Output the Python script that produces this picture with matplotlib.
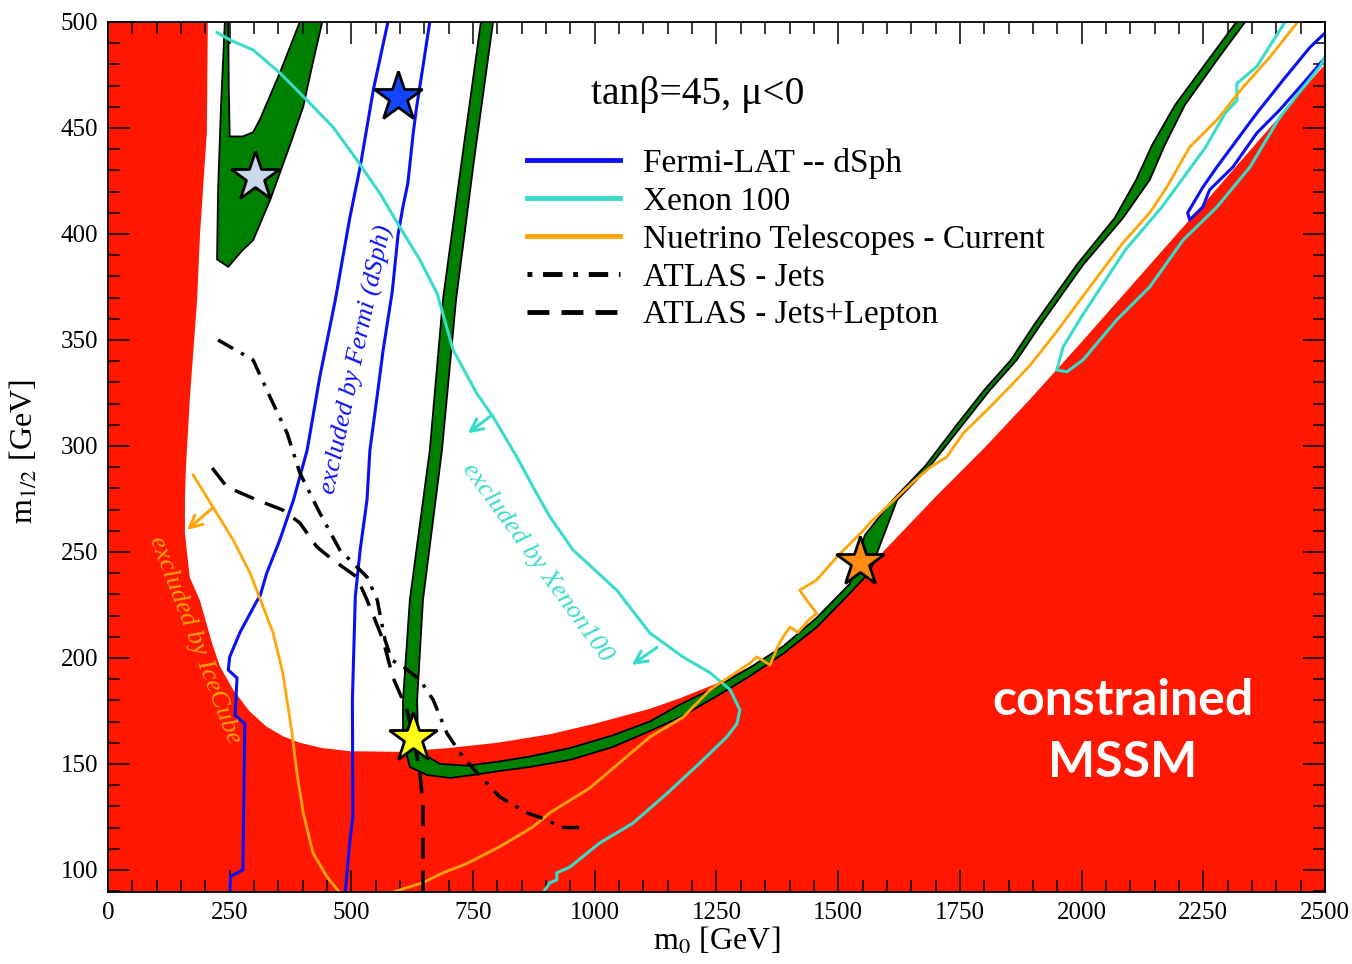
import matplotlib
matplotlib.use("Agg")
import matplotlib.pyplot as plt
from matplotlib.lines import Line2D

plt.rcParams['font.family'] = ['Liberation Serif', 'DejaVu Serif']
plt.rcParams['mathtext.fontset'] = 'stix'

# allowed (white) region: left edge top->bottom, then stau boundary left->right
allowed_x = [205, 203, 189, 183, 168, 160, 158, 158, 162, 168, 189, 200, 215, 230, 257, 290,
             326, 360, 394, 440, 497, 600, 700, 800, 908, 1000, 1113, 1175, 1251, 1320, 1387,
             1489, 1592, 1700, 1800, 1894, 2000, 2250, 2500, 2500]
allowed_y = [500, 448, 400, 369, 322, 290, 275, 259, 250, 238, 227, 218, 206, 196, 185, 175,
             167.5, 163, 160, 157.5, 156, 155.7, 157.5, 160, 164, 169, 176, 181, 188, 196, 205,
             225, 250, 276, 299, 322, 349, 414, 480, 500]

# relic density strips (green)
bulk_x = [240, 232, 226, 224, 247, 275, 298, 333, 355, 377, 401, 420, 440,
          394, 353, 312, 298, 277, 250, 248, 247]
bulk_y = [500, 460, 420, 388, 384.5, 392, 397, 416, 430, 444, 460, 480, 500,
          500, 476, 454, 448, 446, 446, 470, 500]

strip_x = [766, 727, 688, 661, 620, 606, 606, 620, 655, 703, 750, 805, 867, 949, 1037, 1113,
           1175, 1251, 1319, 1387, 1456, 1524, 1565, 1621, 1689, 1757, 1812, 1867, 1915,
           2003, 2085, 2140, 2171, 2212, 2278, 2336,
           2318, 2260, 2192, 2145, 2112, 2068, 1990, 1902, 1855, 1800, 1745, 1679, 1612,
           1555, 1524, 1456, 1387, 1319, 1251, 1175, 1113, 1037, 949, 867, 805, 737, 682,
           651, 637, 635, 647, 686, 715, 752, 791]
strip_y = [500, 435, 369, 298, 227.4, 180, 161.3, 148.6, 144.8, 143.4, 144.8, 146.7, 148.6,
           151.9, 158, 165.5, 172, 182, 191.5, 202, 214.5, 230.5, 240.6, 274.5, 290.6, 310.4,
           326.4, 340.6, 357, 385.4, 407.5, 425.5, 442, 460.8, 482, 500,
           500, 482, 460.8, 442, 425.5, 407.5, 385.4, 357, 340.6, 326.4, 310.4, 290.6, 274.5,
           258, 235, 219, 205.5, 195.5, 186.5, 178, 170, 163.5, 157.5, 153.5, 151.2, 149.2,
           150, 154.2, 161.3, 180, 227.4, 298, 369, 435, 500]

# Fermi-LAT dSph
fermi_a_x = [575, 545, 518, 497, 467, 435, 409, 381, 353, 326, 312, 306, 271, 250, 247,
             265, 261, 281, 277, 252, 250]
fermi_a_y = [500, 468, 431.6, 408, 369, 332.5, 298, 274.5, 255.7, 240, 229, 227, 212,
             200.5, 194.3, 190.6, 173, 169, 100, 97, 89]
fermi_b_x = [661, 647, 634, 627, 616, 606, 596, 584, 565, 552, 538, 532, 518, 508,
             502, 503, 497, 487]
fermi_b_y = [500, 479, 460, 447.6, 424, 413, 400, 373, 345, 322, 298, 274.5, 251, 229,
             180, 125, 114, 89]
fermi_c_x = [2500, 2469, 2414, 2360, 2319, 2278, 2249, 2218, 2222, 2249, 2263, 2311, 2360,
             2407, 2455, 2496]
fermi_c_y = [494.8, 488, 472.6, 457, 444.3, 431.6, 422, 410, 406.6, 412.7, 420.8, 431.6,
             447.6, 458.5, 471, 482]

# Xenon 100
xenon_a_x = [224, 251, 298, 353, 409, 462, 511, 559, 600, 641, 676, 709, 757, 791, 840, 873,
             908, 955, 1045, 1113, 1181, 1237, 1278, 1298, 1292, 1271, 1216, 1148, 1078, 1010,
             949, 922, 922, 908, 893]
xenon_a_y = [495, 491.5, 486.8, 476, 463, 450.5, 435, 419, 403, 387.7, 372, 345.3, 325, 313.7,
             294.8, 280.7, 266.5, 251, 232, 211.8, 200.5, 193, 185, 175.5, 169, 162.7, 150.5,
             136, 122, 112.7, 101.4, 98.6, 95.3, 94, 89]
xenon_b_x = [2418, 2360, 2319, 2319, 2295, 2255, 2165, 2090, 2000, 1962, 1949, 1970, 2003,
             2072, 2140, 2208, 2278, 2346, 2407, 2455, 2490, 2500]
xenon_b_y = [500, 479, 471, 463, 457, 441, 412.7, 392.5, 361, 346.7, 335.8, 335, 340.6,
             359.4, 375, 397, 412.7, 431.6, 455, 469, 479, 483.5]

# Neutrino telescopes
icecube_x = [175, 216, 257, 292, 312, 339, 359, 378, 388, 401, 421, 450, 477]
icecube_y = [286.3, 271, 255.7, 240, 228, 212, 193, 164.6, 145.8, 127, 108, 96.7, 89]
nu_x = [585, 647, 688, 737, 805, 873, 908, 990, 1113, 1181, 1237, 1319, 1333, 1360, 1375,
        1387, 1401, 1417, 1440, 1456, 1436, 1421, 1456, 1497, 1551, 1571, 1654, 1689, 1723,
        1757, 1806, 1853, 1894, 1949, 2017, 2085, 2140, 2175, 2222, 2278, 2331, 2387, 2444]
nu_y = [89.5, 94, 98.6, 103, 111, 120.3, 127, 138.7, 162.7, 172, 185, 197.6, 200.5, 196.7,
        205, 210, 214.6, 212, 218, 221, 227, 232, 236.8, 247.6, 260, 265, 283, 290, 294.8,
        306, 317, 328, 338, 354, 375, 395.8, 410, 422, 441, 453.8, 469, 483.5, 500]

# ATLAS
jets_x = [226, 298, 333, 368, 394, 435, 476, 532, 553, 569, 583, 610, 641, 668, 696, 723,
          758, 805, 861, 902, 930, 980]
jets_y = [350, 340.6, 323, 306, 287.3, 268.4, 251, 238.2, 227.4, 208.5, 199, 195.3, 189.6,
          180.2, 164.6, 155.2, 145.8, 134.4, 126.9, 123.6, 120, 120]
lep_x = [214, 244, 306, 359, 394, 429, 462, 511, 532, 565, 585, 614, 629, 641, 647, 647]
lep_y = [289.6, 280.7, 274.5, 269.8, 263.7, 252.4, 246.2, 238.2, 227.4, 208.5, 191, 175.5,
         161.3, 144.8, 130.7, 89]

# benchmark stars
star_x = [302, 596, 627, 1545]
star_y = [427, 464.6, 162.3, 245.3]
star_colors = ['#c9d9e8', '#1446ff', '#ffff14', '#ff8a14']

legend_labels = ['Fermi-LAT -- dSph', 'Xenon 100', 'Nuetrino Telescopes - Current',
                 'ATLAS - Jets', 'ATLAS - Jets+Lepton']

RED = '#ff1700'
GREEN = '#008000'
BLUE = '#0a10f5'
CYAN = '#38dccb'
ORANGE = '#ffa508'
DASHDOT = (0, (5, 2.6, 1, 2.6))
DASHED = (0, (6, 3.4))

fig = plt.figure(figsize=(13.52, 9.64), dpi=100)
ax = fig.add_axes([0.0799, 0.0747, 0.9001, 0.9025])
ax.set_facecolor(RED)

ax.fill(allowed_x, allowed_y, color='white', lw=0, zorder=0.5)
ax.fill(bulk_x, bulk_y, facecolor=GREEN, edgecolor='black', lw=1.3, zorder=1)
ax.fill(strip_x, strip_y, facecolor=GREEN, edgecolor='black', lw=1.3, zorder=1)

ax.plot(fermi_a_x, fermi_a_y, color=BLUE, lw=2.2, zorder=2)
ax.plot(fermi_b_x, fermi_b_y, color=BLUE, lw=2.2, zorder=2)
ax.plot(fermi_c_x, fermi_c_y, color=BLUE, lw=2.2, zorder=2)
ax.plot(xenon_a_x, xenon_a_y, color=CYAN, lw=2.2, zorder=2)
ax.plot(xenon_b_x, xenon_b_y, color=CYAN, lw=2.2, zorder=2)
ax.plot(icecube_x, icecube_y, color=ORANGE, lw=2.0, zorder=2)
ax.plot(nu_x, nu_y, color=ORANGE, lw=2.0, zorder=2)
ax.plot(jets_x, jets_y, color='black', lw=2.5, ls=DASHDOT, zorder=3)
ax.plot(lep_x, lep_y, color='black', lw=2.5, ls=DASHED, zorder=3)

# exclusion arrows
arrow_kw = dict(arrowstyle='->', lw=2.2, mutation_scale=22, shrinkA=0, shrinkB=0)
ax.annotate('', xy=(739, 306), xytext=(789, 314.6), arrowprops=dict(color=CYAN, **arrow_kw), zorder=3)
ax.annotate('', xy=(1076, 196.7), xytext=(1128, 205), arrowprops=dict(color=CYAN, **arrow_kw), zorder=3)
ax.annotate('', xy=(162, 260.4), xytext=(216, 271), arrowprops=dict(color=ORANGE, **arrow_kw), zorder=3)

for sx, sy, sc in zip(star_x, star_y, star_colors):
    ax.plot(sx, sy, marker='*', ms=37, mfc=sc, mec='black', mew=2, zorder=5)

ax.text(511, 340.6, 'excluded by Fermi (dSph)', color=BLUE, fontsize=19, style='italic',
        rotation=78, rotation_mode='anchor', ha='center', va='center', zorder=4)
ax.text(881, 244.8, 'excluded by Xenon100', color=CYAN, fontsize=19, style='italic',
        rotation=-54, rotation_mode='anchor', ha='center', va='center', zorder=4)
ax.text(179, 208.5, 'excluded by IceCube', color=ORANGE, fontsize=19, style='italic',
        rotation=-69, rotation_mode='anchor', ha='center', va='center', zorder=4)

ax.text(0.4848, 0.917, 'tanβ=45, μ<0', transform=ax.transAxes, fontsize=28.5,
        ha='center', va='center')
ax.text(0.834, 0.1845, 'constrained\nMSSM', transform=ax.transAxes, color='white',
        fontsize=36, fontweight='bold', family='Lato', ha='center', va='center',
        linespacing=1.45)

handles = [Line2D([], [], color=BLUE, lw=3.5),
           Line2D([], [], color=CYAN, lw=3.5),
           Line2D([], [], color=ORANGE, lw=3.5),
           Line2D([], [], color='black', lw=3.5, ls=(0, (1, 2.2, 4, 2.2))),
           Line2D([], [], color='black', lw=3.5, ls=(0, (4.5, 2.5)))]
ax.legend(handles, legend_labels, loc='upper left', bbox_to_anchor=(0.344, 0.855),
          frameon=False, fontsize=24, handlelength=2.8, handletextpad=0.69,
          labelspacing=0.22, borderpad=0, borderaxespad=0)

ax.set_xlim(0, 2500)
ax.set_ylim(89.6, 500)
ax.set_xticks(range(0, 2501, 250))
ax.set_xticks(range(0, 2501, 50), minor=True)
ax.set_yticks(range(100, 501, 50))
ax.set_yticks(range(90, 501, 10), minor=True)
ax.tick_params(which='both', direction='in', top=True, right=True, labelsize=18, pad=7)
ax.tick_params(which='major', length=16, width=1.1)
ax.tick_params(which='minor', length=8.5, width=1.1)
for sp in ax.spines.values():
    sp.set_linewidth(1.3)

ax.set_xlabel(r'm$_0$ [GeV]', fontsize=23)
ax.set_ylabel(r'm$_{1/2}$ [GeV]', fontsize=23)
ax.xaxis.set_label_coords(0.5, -0.039)
ax.yaxis.set_label_coords(-0.056, 0.506)

fig.savefig('out.png', dpi=100)
